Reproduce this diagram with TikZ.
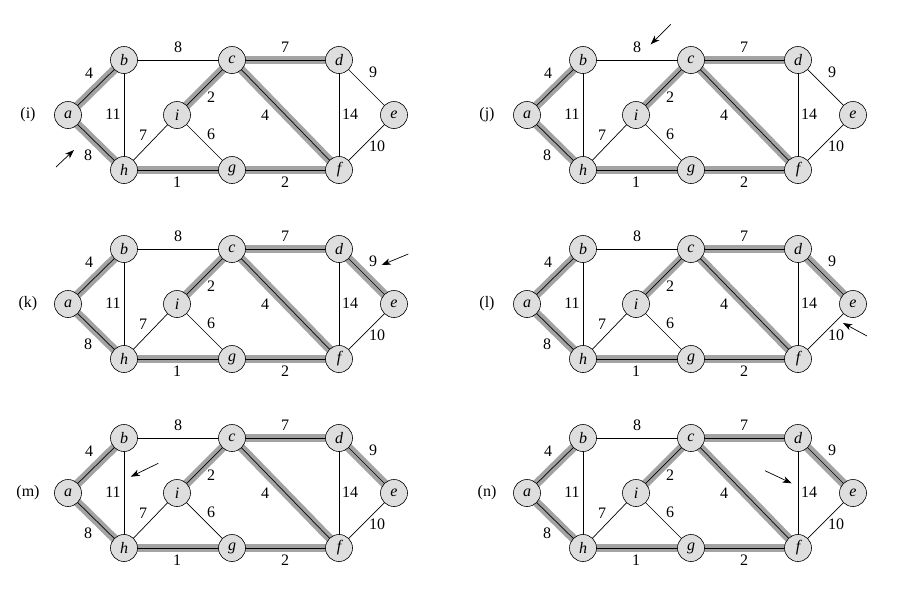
\documentclass[tikz,border=0pt]{standalone}
\usepackage{fontspec}
\setmainfont{Liberation Serif}
\usetikzlibrary{arrows.meta,backgrounds}
\tikzset{
  vtx/.style={circle, draw=black, line width=0.6pt, fill=black!13, minimum size=27pt, inner sep=0pt,
    font=\fontsize{16}{16}\selectfont\itshape},
  edge/.style={line width=0.7pt, draw=black},
  mst/.style={line width=8.5pt, draw=black!36},
  wlab/.style={inner sep=0pt, font=\fontsize{16}{16}\selectfont},
  plab/.style={inner sep=0pt, font=\fontsize{16}{16}\selectfont},
  pointer/.style={-{Stealth[length=9pt,width=6.5pt,inset=2.5pt]}, line width=0.7pt},
}
\newcommand\kpanel[7]{%
  \begin{scope}[shift={(#2,#3)}, name prefix=#1-]
    \node[plab] (lbl) at (28,115) {#4};
    \node[vtx] (a) at (68,115) {a};
    \node[vtx] (b) at (124,60) {b};
    \node[vtx] (c) at (232,60) {c};
    \node[vtx] (d) at (339,60) {d};
    \node[vtx] (e) at (394,115) {e};
    \node[vtx] (f) at (339,170) {f};
    \node[vtx] (g) at (232,170) {g};
    \node[vtx] (h) at (124,170) {h};
    \node[vtx] (i) at (177,115) {i};
    \begin{pgfonlayer}{background}
      \foreach \u/\v in {#5} \draw[mst] (\u.center) -- (\v.center);
      \foreach \u/\v in {a/b,a/h,b/c,b/h,c/d,c/i,c/f,d/e,d/f,e/f,i/h,i/g,h/g,g/f}
        \draw[edge] (\u.center) -- (\v.center);
    \end{pgfonlayer}
    \node[wlab] (wab) at (89,73) {4};
    \node[wlab] (wbc) at (178,47) {8};
    \node[wlab] (wcd) at (285,47) {7};
    \node[wlab] (wde) at (373,72) {9};
    \node[wlab] (wbh) at (113,114) {11};
    \node[wlab] (wci) at (211,97) {2};
    \node[wlab] (wcf) at (265,115) {4};
    \node[wlab] (wdf) at (350,114) {14};
    \node[wlab] (wih) at (143,135) {7};
    \node[wlab] (wig) at (211,134) {6};
    \node[wlab] (wef) at (377,146) {10};
    \node[wlab] (wah) at (88,155) {8};
    \node[wlab] (whg) at (177,182) {1};
    \node[wlab] (wgf) at (285,182) {2};
    \coordinate (pfrom) at #6;
    \coordinate (pto) at #7;
    \draw[pointer] (pfrom) -- (pto);
  \end{scope}}
\begin{document}
\begin{tikzpicture}[x=1pt,y=-1pt]
  \useasboundingbox (0,0) rectangle (905,603);
  \kpanel{pi}{0}{0}{(i)}{a/b,a/h,c/i,c/d,c/f,h/g,g/f}{(56,167)}{(74,150)}
  \kpanel{pj}{459}{0}{(j)}{a/b,a/h,c/i,c/d,c/f,h/g,g/f}{(211.7,24.3)}{(191.7,44.3)}
  \kpanel{pk}{0}{189}{(k)}{a/b,a/h,c/i,c/d,c/f,h/g,g/f,d/e}{(408.3,65)}{(381.7,76)}
  \kpanel{pl}{459}{189}{(l)}{a/b,a/h,c/i,c/d,c/f,h/g,g/f,d/e}{(408,147)}{(384,134)}
  \kpanel{pm}{0}{378}{(m)}{a/b,a/h,c/i,c/d,c/f,h/g,g/f,d/e}{(158.3,85.3)}{(130.7,98.7)}
  \kpanel{pn}{459}{378}{(n)}{a/b,a/h,c/i,c/d,c/f,h/g,g/f,d/e}{(306,92.7)}{(332.7,105.3)}
\end{tikzpicture}
\end{document}
